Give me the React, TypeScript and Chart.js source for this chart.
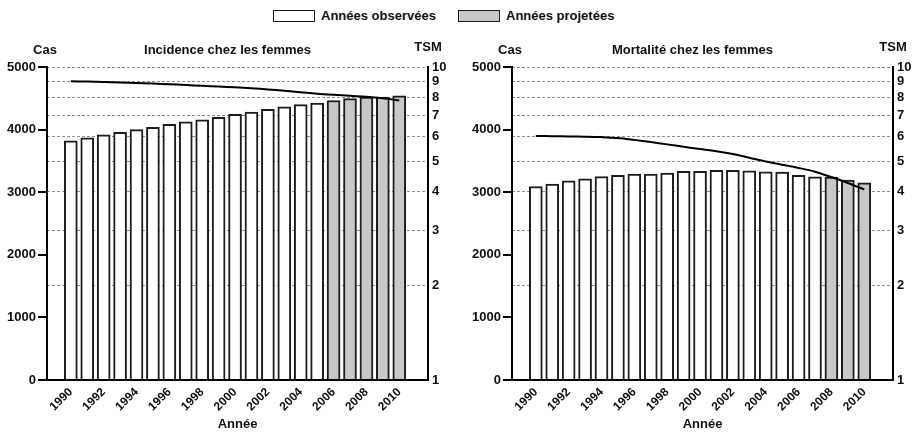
import React, { useEffect, useRef } from "react";
import { Chart, registerables } from "chart.js";

Chart.register(...registerables);

// ---------- data ----------
const years = [1990, 1991, 1992, 1993, 1994, 1995, 1996, 1997, 1998, 1999, 2000, 2001, 2002, 2003, 2004, 2005, 2006, 2007, 2008, 2009, 2010];
const xTickYears = [1990, 1992, 1994, 1996, 1998, 2000, 2002, 2004, 2006, 2008, 2010];
const casTicks = [0, 1000, 2000, 3000, 4000, 5000];
const tsmTicks = [1, 2, 3, 4, 5, 6, 7, 8, 9, 10];

const incidenceCas = [3820, 3870, 3915, 3955, 4000, 4035, 4085, 4125, 4155, 4195, 4245, 4280, 4325, 4365, 4400, 4425, 4465, 4495, 4520, 4520, 4540];
const incidenceTSM = [9.0, 8.98, 8.95, 8.92, 8.89, 8.85, 8.81, 8.76, 8.71, 8.66, 8.61, 8.55, 8.48, 8.4, 8.31, 8.22, 8.15, 8.09, 8.04, 7.95, 7.82];
const incidenceFirstProjected = 2006;

const mortaliteCas = [3090, 3130, 3180, 3215, 3250, 3270, 3290, 3290, 3305, 3335, 3335, 3350, 3350, 3340, 3325, 3320, 3270, 3245, 3240, 3195, 3150];
const mortaliteTSM = [6.02, 6.01, 6.0, 5.99, 5.97, 5.93, 5.85, 5.76, 5.66, 5.56, 5.47, 5.38, 5.27, 5.13, 4.99, 4.87, 4.76, 4.63, 4.45, 4.26, 4.06];
const mortaliteFirstProjected = 2008;

const legendLabels = ["Années observées", "Années projetées"];

// ---------- styles ----------
const FONT = "'Liberation Sans', Arial, Helvetica, sans-serif";
const OBS_COLOR = "#ffffff";
const PROJ_COLOR = "#c8c8c8";
const EDGE = "#1c1c1c";
const GRID = "#8e8e8e";

Chart.defaults.font.family = FONT;
Chart.defaults.font.weight = "bold";
Chart.defaults.color = "#111";

function buildConfig(
  title: string,
  cas: number[],
  tsm: number[],
  firstProjected: number,
  leftW: number,
  rightW: number
): any {
  const obs = years.map((y, i) => ({ x: y, y: cas[i] })).filter((p) => p.x < firstProjected);
  const proj = years.map((y, i) => ({ x: y, y: cas[i] })).filter((p) => p.x >= firstProjected);
  const line = years.map((y, i) => ({ x: y, y: tsm[i] }));

  const titlePlugin = {
    id: "panelTitles",
    afterDraw(chart: any) {
      const { ctx, chartArea } = chart;
      ctx.save();
      ctx.fillStyle = "#111";
      ctx.font = `bold 13px ${FONT}`;
      ctx.textAlign = "center";
      ctx.textBaseline = "middle";
      ctx.fillText("Cas", chartArea.left - 2, 50);
      ctx.fillText(title, (chartArea.left + chartArea.right) / 2 - 10, 50);
      ctx.fillText("TSM", chartArea.right, 47);
      ctx.restore();
    },
  };

  return {
    type: "bar",
    data: {
      datasets: [
        {
          type: "line",
          data: line,
          yAxisID: "y1",
          borderColor: "#000",
          borderWidth: 2,
          pointRadius: 0,
          tension: 0.35,
          fill: false,
          order: 0,
        },
        {
          type: "bar",
          data: obs,
          yAxisID: "y",
          backgroundColor: OBS_COLOR,
          borderColor: EDGE,
          borderWidth: 2,
          barThickness: 13,
          grouped: false,
          order: 1,
        },
        {
          type: "bar",
          data: proj,
          yAxisID: "y",
          backgroundColor: PROJ_COLOR,
          borderColor: EDGE,
          borderWidth: 2,
          barThickness: 13,
          grouped: false,
          order: 1,
        },
      ],
    },
    options: {
      animation: false,
      responsive: false,
      layout: { padding: { top: 67, left: 0, right: 0, bottom: 0 } },
      plugins: { legend: { display: false }, tooltip: { enabled: false }, title: { display: false } },
      scales: {
        x: {
          type: "linear",
          min: 1988.55,
          max: 2011.75,
          offset: false,
          grid: { display: false, offset: false, drawTicks: false },
          border: { display: true, color: "#000", width: 2 },
          afterBuildTicks: (s: any) => {
            s.ticks = xTickYears.map((v) => ({ value: v }));
          },
          ticks: {
            autoSkip: false,
            minRotation: 45,
            maxRotation: 45,
            padding: 5,
            color: "#111",
            font: { size: 12, weight: "bold" },
            callback: (v: any) => String(v),
          },
          title: {
            display: true,
            text: "Année",
            color: "#111",
            font: { size: 13, weight: "bold" },
            padding: { top: 0, bottom: 1 },
          },
          afterFit: (s: any) => {
            s.height = 53;
          },
        },
        y: {
          type: "linear",
          position: "left",
          min: 0,
          max: 5000,
          afterBuildTicks: (s: any) => {
            s.ticks = casTicks.map((v) => ({ value: v }));
          },
          ticks: {
            padding: 2,
            color: "#111",
            font: { size: 13, weight: "bold" },
            callback: (v: any) => String(v),
          },
          grid: { drawOnChartArea: false, drawTicks: true, tickLength: 9, color: "#000", lineWidth: 2 },
          border: { display: true, color: "#000", width: 2 },
          afterFit: (s: any) => {
            s.width = leftW;
          },
        },
        y1: {
          type: "logarithmic",
          position: "right",
          min: 1,
          max: 10,
          afterBuildTicks: (s: any) => {
            s.ticks = tsmTicks.map((v) => ({ value: v }));
          },
          ticks: {
            autoSkip: false,
            padding: 4,
            color: "#111",
            font: { size: 13, weight: "bold" },
            callback: (v: any) => String(v),
          },
          grid: {
            drawOnChartArea: true,
            drawTicks: false,
            lineWidth: 1,
            color: (c: any) => (c.tick && c.tick.value === 1 ? "rgba(0,0,0,0)" : GRID),
          },
          border: { display: true, color: "#000", width: 2, dash: [3, 2] },
          afterFit: (s: any) => {
            s.width = rightW;
          },
        },
      },
    },
    plugins: [titlePlugin],
  };
}

function Panel(props: { left: number; width: number; cfg: any }) {
  const ref = useRef<HTMLCanvasElement | null>(null);
  useEffect(() => {
    if (!ref.current) return;
    const chart = new Chart(ref.current, props.cfg);
    return () => chart.destroy();
  }, []);
  return (
    <canvas
      ref={ref}
      width={props.width}
      height={433}
      style={{ position: "absolute", left: props.left, top: 0, width: props.width, height: 433 }}
    />
  );
}

function LegendItem(props: { left: number; color: string; label: string }) {
  return (
    <div style={{ position: "absolute", left: props.left, top: 9, height: 13, display: "flex", alignItems: "center" }}>
      <div
        style={{
          width: 40,
          height: 10,
          background: props.color,
          border: "1.5px solid #1c1c1c",
          marginRight: 6,
        }}
      />
      <span style={{ font: `bold 13px ${FONT}`, color: "#111", whiteSpace: "nowrap" }}>{props.label}</span>
    </div>
  );
}

export default function App() {
  const cfgLeft = buildConfig("Incidence chez les femmes", incidenceCas, incidenceTSM, incidenceFirstProjected, 47, 30);
  const cfgRight = buildConfig("Mortalité chez les femmes", mortaliteCas, mortaliteTSM, mortaliteFirstProjected, 54, 24);
  return (
    <div style={{ position: "absolute", left: 0, top: 0, width: 917, height: 433, background: "#fff", overflow: "hidden" }}>
      <LegendItem left={273} color={OBS_COLOR} label={legendLabels[0]} />
      <LegendItem left={458} color={PROJ_COLOR} label={legendLabels[1]} />
      <Panel left={0} width={458} cfg={cfgLeft} />
      <Panel left={458} width={459} cfg={cfgRight} />
    </div>
  );
}
